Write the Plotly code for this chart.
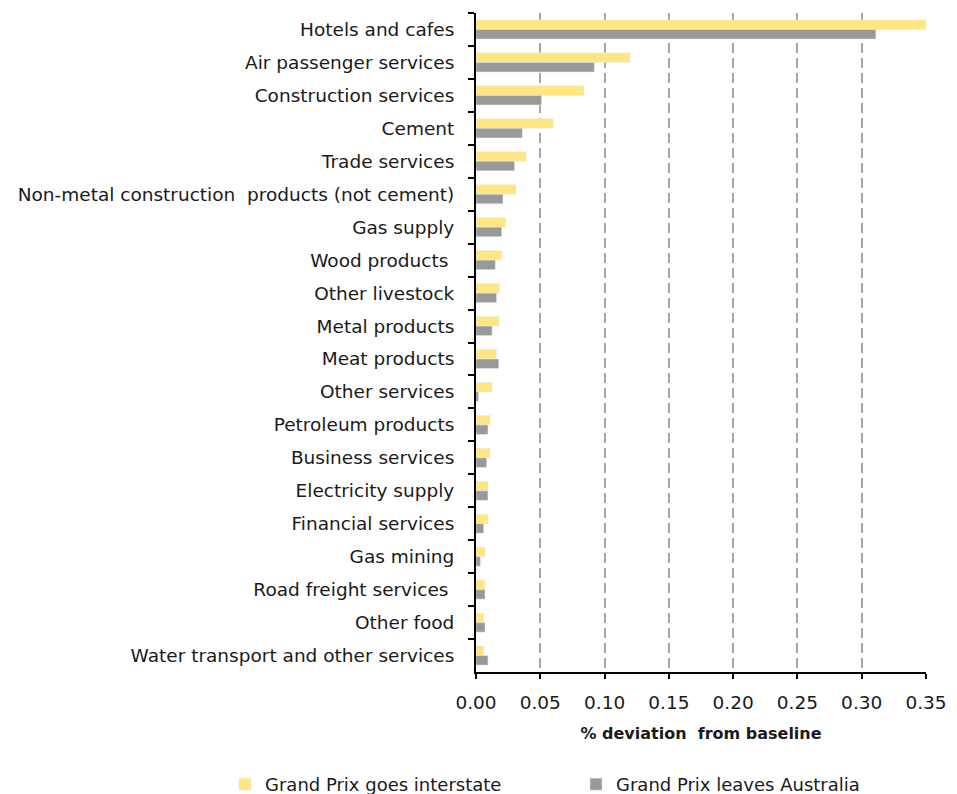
import plotly.graph_objects as go

# Industry categories, top to bottom
industries = [
    "Hotels and cafes",
    "Air passenger services",
    "Construction services",
    "Cement",
    "Trade services",
    "Non-metal construction  products (not cement)",
    "Gas supply",
    "Wood products ",
    "Other livestock",
    "Metal products",
    "Meat products",
    "Other services",
    "Petroleum products",
    "Business services",
    "Electricity supply",
    "Financial services",
    "Gas mining",
    "Road freight services ",
    "Other food",
    "Water transport and other services",
]

# % deviation from baseline
goes_interstate = [0.350, 0.120, 0.084, 0.060, 0.039, 0.031, 0.023, 0.020, 0.018, 0.018,
                   0.016, 0.0125, 0.011, 0.011, 0.0093, 0.0093, 0.007, 0.007, 0.006, 0.006]
leaves_australia = [0.311, 0.092, 0.051, 0.036, 0.030, 0.021, 0.020, 0.015, 0.016, 0.0125,
                    0.0177, 0.002, 0.0093, 0.0083, 0.0093, 0.006, 0.0034, 0.007, 0.007, 0.0093]

x_ticks = [0.00, 0.05, 0.10, 0.15, 0.20, 0.25, 0.30, 0.35]

FONT = "DejaVu Sans"
TEXT = "#1a1a1a"

fig = go.Figure()
fig.add_trace(go.Bar(
    y=industries, x=goes_interstate, orientation="h",
    name="Grand Prix goes interstate", marker_color="#FFE680",
    legend="legend",
))
fig.add_trace(go.Bar(
    y=industries, x=leaves_australia, orientation="h",
    name="Grand Prix leaves Australia", marker_color="#999999",
    legend="legend2",
))

legend_common = dict(
    xref="container", yref="container", yanchor="middle", y=0.012,
    xanchor="left", font=dict(family=FONT, size=18, color=TEXT),
    itemwidth=30, bgcolor="rgba(0,0,0,0)",
)

fig.update_layout(
    width=957, height=794,
    margin=dict(l=476, r=31, t=13, b=122, autoexpand=False),
    paper_bgcolor="white", plot_bgcolor="white",
    barmode="group", bargap=0.42, bargroupgap=0,
    font=dict(family=FONT, color=TEXT),
    showlegend=True,
    legend=dict(x=(225 / 957), **legend_common),
    legend2=dict(x=(576 / 957), **legend_common),
)

fig.update_xaxes(
    range=[0, 0.35], tickvals=x_ticks, tickformat=".2f", tickangle=0,
    automargin=False,
    tickfont=dict(family=FONT, size=18.5, color=TEXT),
    showgrid=True, gridcolor="#a6a6a6", gridwidth=2, griddash="10px,5px",
    zeroline=False, showline=True, linecolor="black", linewidth=2,
    ticks="outside", ticklen=5, tickcolor="black", tickwidth=2,
    ticklabelstandoff=8,
    title=dict(text="<b>% deviation  from baseline</b>",
               font=dict(family=FONT, size=16, color=TEXT), standoff=16),
)

fig.update_yaxes(
    autorange="reversed", automargin=False,
    tickfont=dict(family=FONT, size=18.5, color=TEXT),
    showline=True, linecolor="black", linewidth=2,
    ticks="outside", ticklen=6, tickcolor="black", tickwidth=2,
    tickson="boundaries", ticklabelstandoff=16, showgrid=False,
)

fig.write_html("out.html")
